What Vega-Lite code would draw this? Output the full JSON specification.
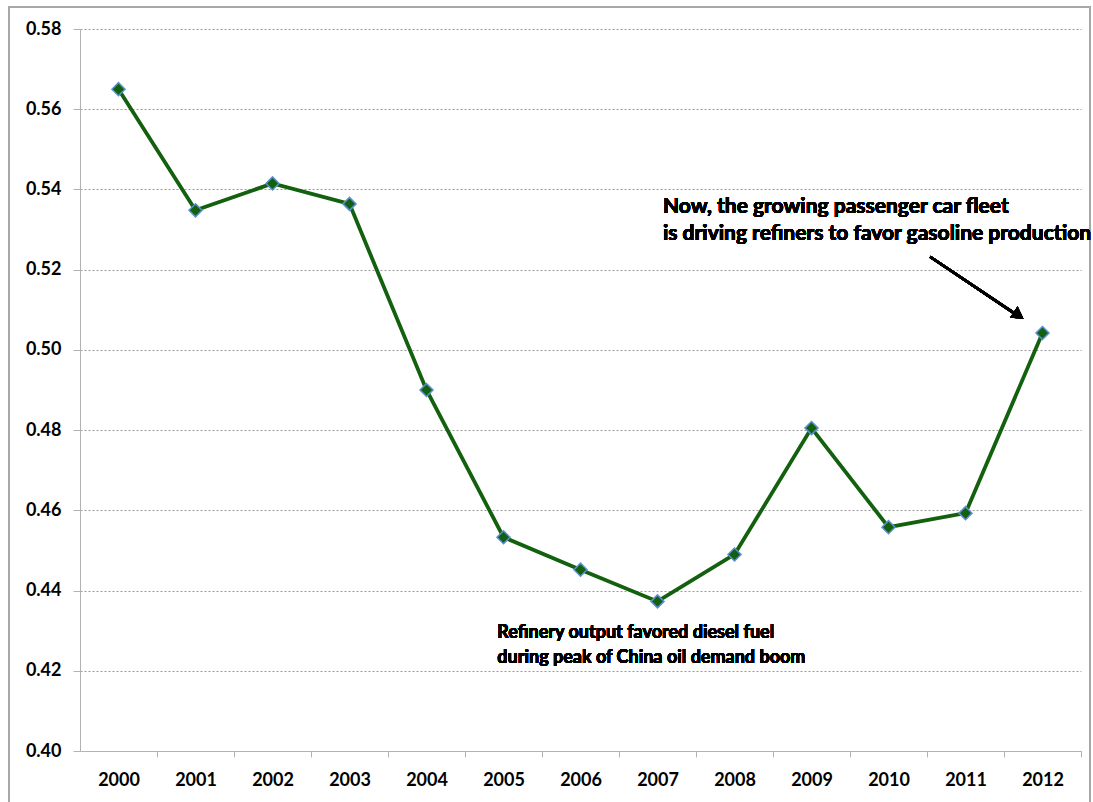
{
  "$schema": "https://vega.github.io/schema/vega-lite/v6.json",
  "autosize": {"type": "none"},
  "padding": {"left": 80, "top": 29, "right": 12, "bottom": 51},
  "width": 1001,
  "height": 722,
  "background": "white",
  "config": {
    "view": {"stroke": null},
    "font": "Lato",
    "axis": {
      "labelFont": "Lato",
      "labelFontWeight": "bold",
      "labelFontSize": 18,
      "labelColor": "#000000",
      "domainColor": "#b3b3b3",
      "tickColor": "#b3b3b3",
      "title": null
    }
  },
  "data": {
    "values": [
      {"year": 2000, "ratio": 0.565},
      {"year": 2001, "ratio": 0.5348},
      {"year": 2002, "ratio": 0.5415},
      {"year": 2003, "ratio": 0.5364},
      {"year": 2004, "ratio": 0.490},
      {"year": 2005, "ratio": 0.4533},
      {"year": 2006, "ratio": 0.4452},
      {"year": 2007, "ratio": 0.4373},
      {"year": 2008, "ratio": 0.449},
      {"year": 2009, "ratio": 0.4805},
      {"year": 2010, "ratio": 0.4558},
      {"year": 2011, "ratio": 0.4593},
      {"year": 2012, "ratio": 0.5042}
    ]
  },
  "layer": [
    {
      "mark": {"type": "rect", "fill": null, "filled": false, "stroke": "#a8a8a8", "strokeWidth": 1.5, "clip": false},
      "encoding": {
        "x": {"datum": 1998.578, "type": "quantitative"},
        "x2": {"datum": 2012.617},
        "y": {"datum": 0.5855, "type": "quantitative"},
        "y2": {"datum": 0.385}
      }
    },
    {
      "mark": {"type": "line", "color": "#13600f", "strokeWidth": 3.8},
      "encoding": {
        "x": {
          "field": "year", "type": "quantitative",
          "scale": {"domain": [1999.5, 2012.5], "nice": false, "zero": false},
          "axis": {
            "values": [2000, 2001, 2002, 2003, 2004, 2005, 2006, 2007, 2008, 2009, 2010, 2011, 2012],
            "format": "d",
            "grid": false,
            "tickSize": 6,
            "tickOffset": 38.5,
            "labelOffset": -38.5,
            "labelPadding": 14,
            "labelFlush": false,
            "labelOverlap": false,
            "labelBound": false
          }
        },
        "y": {
          "field": "ratio", "type": "quantitative",
          "scale": {"domain": [0.40, 0.58], "nice": false, "zero": false},
          "axis": {
            "values": [0.40, 0.42, 0.44, 0.46, 0.48, 0.50, 0.52, 0.54, 0.56, 0.58],
            "format": ".2f",
            "tickSize": 7,
            "labelPadding": 12,
            "grid": true,
            "gridColor": "#9a9a9a",
            "gridDash": [2, 2],
            "gridWidth": 1
          }
        }
      }
    },
    {
      "mark": {"type": "point", "shape": "diamond", "filled": true, "fill": "#13600f", "stroke": "#5b8fd1", "strokeWidth": 1.5, "size": 170, "opacity": 1},
      "encoding": {
        "x": {"field": "year", "type": "quantitative"},
        "y": {"field": "ratio", "type": "quantitative"}
      }
    },
    {
      "mark": {"type": "text", "align": "left", "baseline": "top", "font": "Lato", "fontWeight": "bold", "fontSize": 21, "lineHeight": 27, "lineBreak": "\n", "color": "#000000",
        "text": "Now, the growing passenger car fleet\nis driving refiners to favor gasoline production"},
      "encoding": {
        "x": {"datum": 2007.07, "type": "quantitative"},
        "y": {"datum": 0.5384, "type": "quantitative"}
      }
    },
    {
      "mark": {"type": "text", "align": "left", "baseline": "top", "font": "Lato", "fontWeight": "bold", "fontSize": 18, "lineHeight": 25, "lineBreak": "\n", "color": "#000000",
        "text": "Refinery output favored diesel fuel\nduring peak of China oil demand boom"},
      "encoding": {
        "x": {"datum": 2004.92, "type": "quantitative"},
        "y": {"datum": 0.4316, "type": "quantitative"}
      }
    },
    {
      "mark": {"type": "rule", "color": "#000000", "strokeWidth": 2.5},
      "encoding": {
        "x": {"datum": 2010.54, "type": "quantitative"},
        "y": {"datum": 0.5232, "type": "quantitative"},
        "x2": {"datum": 2011.66},
        "y2": {"datum": 0.5088}
      }
    },
    {
      "mark": {"type": "point", "shape": "triangle-up", "filled": true, "fill": "#000000", "stroke": null, "size": 180, "angle": 124, "opacity": 1},
      "encoding": {
        "x": {"datum": 2011.69, "type": "quantitative"},
        "y": {"datum": 0.5086, "type": "quantitative"}
      }
    }
  ]
}
